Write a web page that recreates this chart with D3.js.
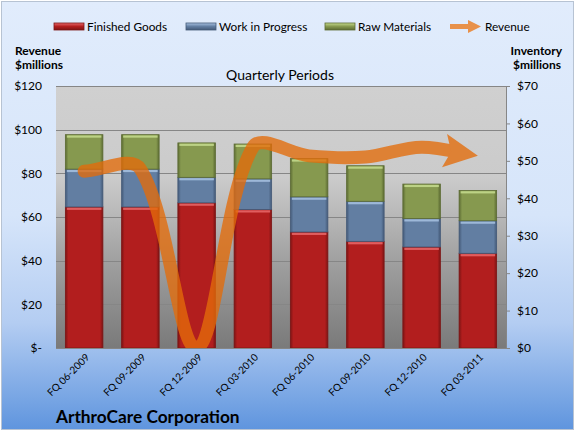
<!DOCTYPE html>
<html>
<head>
<meta charset="utf-8">
<script src="https://cdn.jsdelivr.net/npm/d3@7"></script>
<style>
  body { margin: 0; background: #ffffff; }
  svg text { font-family: Lato, "Open Sans", sans-serif; fill: #000; }
</style>
</head>
<body>
<div id="chart"></div>
<script>

// data, $ millions
var quarters = ["FQ 06-2009", "FQ 09-2009", "FQ 12-2009", "FQ 03-2010",
                "FQ 06-2010", "FQ 09-2010", "FQ 12-2010", "FQ 03-2011"];
var finishedGoods  = [37.7, 37.7, 38.8, 37.0, 31.0, 28.5, 27.0, 25.3];
var workInProgress = [10.1, 10.1, 6.8, 8.2, 9.4, 10.7, 7.6, 8.7];
var rawMaterials   = [9.2, 9.2, 9.2, 9.3, 10.2, 9.5, 9.2, 8.1];
var revenue        = [81, 82, 0, 92, 88, 87.5, 92, 88];

var revenueTicks   = [0, 20, 40, 60, 80, 100, 120];
var inventoryTicks = [0, 10, 20, 30, 40, 50, 60, 70];

var seriesNames = ["Finished Goods", "Work in Progress", "Raw Materials"];


InventoryChart = function(container){

    var self = this;

    this.container = container;
    this.full_width = 576;
    this.full_height = 433;
    this.margin = {left: 56, top: 86, right: 70, bottom: 85};

    this.cs = {
        fg: "#b21e1e", fg_edge: "#7d1414", fg_light: "#e8686a",
        wip: "#627ea2", wip_edge: "#445a78", wip_light: "#a8c2e2",
        raw: "#86994f", raw_edge: "#5c6b33", raw_light: "#c6dc8e",
        revenue: "#e46c0a",
        grid: "#868686"
    };

    this._init();
};

InventoryChart.prototype._init = function(){

    this._build_graph();
    this._draw_backgrounds();
    this._draw_grid();
    this._draw_bars();
    this._draw_axes();
    this._draw_revenue();
    this._draw_legend();
    this._draw_labels();

};

InventoryChart.prototype._build_graph = function(){

    var m = this.margin;

    this.width  = this.full_width - m.left - m.right;
    this.height = this.full_height - m.top - m.bottom;

    this._svg = d3.select(this.container)
        .append("svg")
        .attr("width", this.full_width)
        .attr("height", this.full_height);

    this._defs = this._svg.append("defs");

    this.x = d3.scaleBand()
        .domain(quarters)
        .range([0, this.width])
        .paddingInner(0.333)
        .paddingOuter(0.1667);

    this.yInv = d3.scaleLinear().domain([0, 70]).range([this.height, 0]);
    this.yRev = d3.scaleLinear().domain([0, 120]).range([this.height, 0]);

};

InventoryChart.prototype._gradient = function(id, stops, vertical){

    var g = this._defs.append("linearGradient")
        .attr("id", id)
        .attr("x1", 0).attr("y1", 0)
        .attr("x2", vertical ? 0 : 1)
        .attr("y2", vertical ? 1 : 0);

    stops.forEach(function(s){
        g.append("stop").attr("offset", s[0]).attr("stop-color", s[1]);
    });

};

InventoryChart.prototype._draw_backgrounds = function(){

    var m = this.margin;

    this._gradient("bgGrad", [
        [0, "#e1ecfc"], [0.5, "#d6e5fa"], [0.75, "#b4cdf2"], [1, "#5f95de"]
    ], true);

    this._gradient("plotGrad", [
        [0, "#d0d0d0"], [0.35, "#cbcbcb"], [0.7, "#9c9c9c"], [1, "#7a7a7a"]
    ], true);

    this._svg.append("rect")
        .attr("x", 1.5).attr("y", 1.5)
        .attr("width", this.full_width - 4)
        .attr("height", this.full_height - 5)
        .style("fill", "url(#bgGrad)")
        .style("stroke", "#b7c3d3");

    this._chart = this._svg.append("g")
        .attr("transform", "translate(" + m.left + "," + m.top + ")");

    this._chart.append("rect")
        .attr("width", this.width)
        .attr("height", this.height)
        .style("fill", "url(#plotGrad)");

};

InventoryChart.prototype._draw_grid = function(){

    var self = this;

    this._chart.append("g")
        .selectAll("line")
        .data(revenueTicks)
        .join("line")
        .attr("x1", 0)
        .attr("x2", self.width)
        .attr("y1", function(d){ return Math.round(self.yRev(d)) + 0.5; })
        .attr("y2", function(d){ return Math.round(self.yRev(d)) + 0.5; })
        .style("stroke", self.cs.grid)
        .style("stroke-width", 1);

};

InventoryChart.prototype._draw_bars = function(){

    var self = this;
    var cs = this.cs;

    var rows = quarters.map(function(q, i){
        return {q: q, fg: finishedGoods[i], wip: workInProgress[i], raw: rawMaterials[i]};
    });

    var stack = d3.stack().keys(["fg", "wip", "raw"])(rows);

    ["fg", "wip", "raw"].forEach(function(k){
        self._gradient("bar_" + k, [
            [0, cs[k + "_edge"]], [0.08, cs[k]], [0.92, cs[k]], [1, cs[k + "_edge"]]
        ], false);
    });

    var layers = this._chart.append("g")
        .selectAll("g")
        .data(stack)
        .join("g");

    layers.selectAll("rect.seg")
        .data(function(layer){
            return layer.map(function(d){ return {key: layer.key, d: d}; });
        })
        .join("rect")
        .attr("class", "seg")
        .attr("x", function(e){ return self.x(e.d.data.q); })
        .attr("width", self.x.bandwidth())
        .attr("y", function(e){ return self.yInv(e.d[1]); })
        .attr("height", function(e){ return self.yInv(e.d[0]) - self.yInv(e.d[1]); })
        .style("fill", function(e){ return "url(#bar_" + e.key + ")"; })
        .style("stroke", function(e){ return cs[e.key + "_edge"]; })
        .style("stroke-width", 0.8);

    // bevel highlight along the top of each block
    layers.selectAll("rect.hi")
        .data(function(layer){
            return layer.map(function(d){ return {key: layer.key, d: d}; });
        })
        .join("rect")
        .attr("class", "hi")
        .attr("x", function(e){ return self.x(e.d.data.q) + 1.5; })
        .attr("width", self.x.bandwidth() - 3)
        .attr("y", function(e){ return self.yInv(e.d[1]) + 0.8; })
        .attr("height", 2.2)
        .style("fill", function(e){ return cs[e.key + "_light"]; })
        .style("opacity", 0.85);

};

InventoryChart.prototype._draw_axes = function(){

    var self = this;

    // bottom line
    this._chart.append("line")
        .attr("x1", 0).attr("x2", self.width)
        .attr("y1", self.height + 0.5).attr("y2", self.height + 0.5)
        .style("stroke", self.cs.grid);

    // left tick labels (revenue)
    this._chart.append("g")
        .selectAll("text")
        .data(revenueTicks)
        .join("text")
        .attr("x", -14)
        .attr("y", function(d){ return self.yRev(d); })
        .attr("dy", "0.35em")
        .attr("text-anchor", "end")
        .style("font-size", "12px")
        .text(function(d){ return d === 0 ? "$-" : "$" + d; });

    // right axis (inventory)
    var right = this._chart.append("g")
        .attr("transform", "translate(" + self.width + ",0)")
        .call(d3.axisRight(self.yInv)
            .tickValues(inventoryTicks)
            .tickSize(4)
            .tickPadding(7)
            .tickFormat(function(d){ return "$" + d; }));

    right.select(".domain").style("stroke", self.cs.grid);
    right.selectAll(".tick line").style("stroke", self.cs.grid);
    right.selectAll(".tick text")
        .style("font-size", "12px")
        .style("font-family", "Lato, sans-serif")
        .style("fill", "#000");

    // category labels, slanted
    this._chart.append("g")
        .selectAll("text")
        .data(quarters)
        .join("text")
        .attr("text-anchor", "end")
        .attr("transform", function(d){
            return "translate(" + (self.x(d) + self.x.bandwidth() / 2 + 6) + "," +
                (self.height + 10) + ") rotate(-45)";
        })
        .style("font-size", "10px")
        .text(function(d){ return d; });

};

// spreadsheet-style smoothing: bezier handles along (next - prev),
// sized by the share of the chord length of each side
InventoryChart.prototype._smooth_path = function(pts){

    var p = d3.path();
    var dist = function(a, b){ return Math.hypot(b[0] - a[0], b[1] - a[1]); };

    p.moveTo(pts[0][0], pts[0][1]);

    for (var i = 0; i < pts.length - 1; i++){
        var p0 = pts[i - 1] || pts[i],
            p1 = pts[i],
            p2 = pts[i + 1],
            p3 = pts[i + 2] || pts[i + 1];

        var d01 = dist(p0, p1), d12 = dist(p1, p2), d23 = dist(p2, p3);
        var f1 = d12 / (d01 + d12) / 3,
            f2 = d12 / (d12 + d23) / 3;

        p.bezierCurveTo(
            p1[0] + (p2[0] - p0[0]) * f1, p1[1] + (p2[1] - p0[1]) * f1,
            p2[0] - (p3[0] - p1[0]) * f2, p2[1] - (p3[1] - p1[1]) * f2,
            p2[0], p2[1]);
    }

    return p.toString();

};

InventoryChart.prototype._draw_revenue = function(){

    var self = this;
    var cs = this.cs;

    this._defs.append("clipPath")
        .attr("id", "plotClip")
        .append("rect")
        .attr("x", -20).attr("y", -20)
        .attr("width", self.width + 40)
        .attr("height", self.height + 20);

    this._defs.append("marker")
        .attr("id", "revArrow")
        .attr("viewBox", "0 0 10 10")
        .attr("refX", 10).attr("refY", 5)
        .attr("markerUnits", "strokeWidth")
        .attr("markerWidth", 2.6)
        .attr("markerHeight", 2.7)
        .attr("orient", "auto")
        .append("path")
        .attr("d", "M0,0 L10,5 L0,10 L2,5 Z")
        .style("fill", cs.revenue);

    var pts = revenue.map(function(v, i){
        return [self.x(quarters[i]) + self.x.bandwidth() / 2, self.yRev(v)];
    });

    var g = this._chart.append("g")
        .attr("clip-path", "url(#plotClip)")
        .style("opacity", 0.78);

    var path = g.append("path")
        .attr("d", self._smooth_path(pts))
        .style("fill", "none")
        .style("stroke", cs.revenue)
        .style("stroke-width", 13)
        .style("stroke-linecap", "round")
        .attr("marker-end", "url(#revArrow)");

    var len = path.node().getTotalLength();
    path.style("stroke-dasharray", (len - 20) + " " + len);

};

InventoryChart.prototype._draw_legend = function(){

    var self = this;
    var cs = this.cs;

    var items = [
        {name: seriesNames[0], key: "fg", x: 54},
        {name: seriesNames[1], key: "wip", x: 186},
        {name: seriesNames[2], key: "raw", x: 325}
    ];

    var legend = this._svg.append("g");

    items.forEach(function(it){
        self._gradient("leg_" + it.key, [
            [0, cs[it.key + "_light"]], [0.5, cs[it.key]], [1, cs[it.key + "_edge"]]
        ], true);

        legend.append("rect")
            .attr("x", it.x).attr("y", 23)
            .attr("width", 30).attr("height", 7)
            .style("fill", "url(#leg_" + it.key + ")")
            .style("stroke", cs[it.key + "_edge"])
            .style("stroke-width", 0.8);

        legend.append("text")
            .attr("x", it.x + 33).attr("y", 31)
            .style("font-size", "11.8px")
            .text(it.name);
    });

    // revenue arrow swatch
    legend.append("line")
        .attr("x1", 450).attr("x2", 470)
        .attr("y1", 26.5).attr("y2", 26.5)
        .style("stroke", "#e8914a")
        .style("stroke-width", 5);

    legend.append("path")
        .attr("d", "M468,20 L481,26.5 L468,33 Z")
        .style("fill", "#e8914a");

    legend.append("text")
        .attr("x", 485).attr("y", 31)
        .style("font-size", "11.8px")
        .text("Revenue");

};

InventoryChart.prototype._draw_labels = function(){

    var svg = this._svg;

    var bold = function(str, x, y, anchor){
        svg.append("text")
            .attr("x", x).attr("y", y)
            .attr("text-anchor", anchor || "start")
            .style("font-size", "12px")
            .style("font-weight", "bold")
            .text(str);
    };

    bold("Revenue", 15, 55);
    bold("$millions", 15, 69);
    bold("Inventory", 562, 55, "end");
    bold("$millions", 561, 69, "end");

    svg.append("text")
        .attr("x", 280).attr("y", 80)
        .attr("text-anchor", "middle")
        .style("font-size", "14px")
        .text("Quarterly Periods");

    svg.append("text")
        .attr("x", 56).attr("y", 423)
        .style("font-size", "17.3px")
        .style("font-weight", "bold")
        .text("ArthroCare Corporation");

};

new InventoryChart("#chart");

</script>
</body>
</html>
